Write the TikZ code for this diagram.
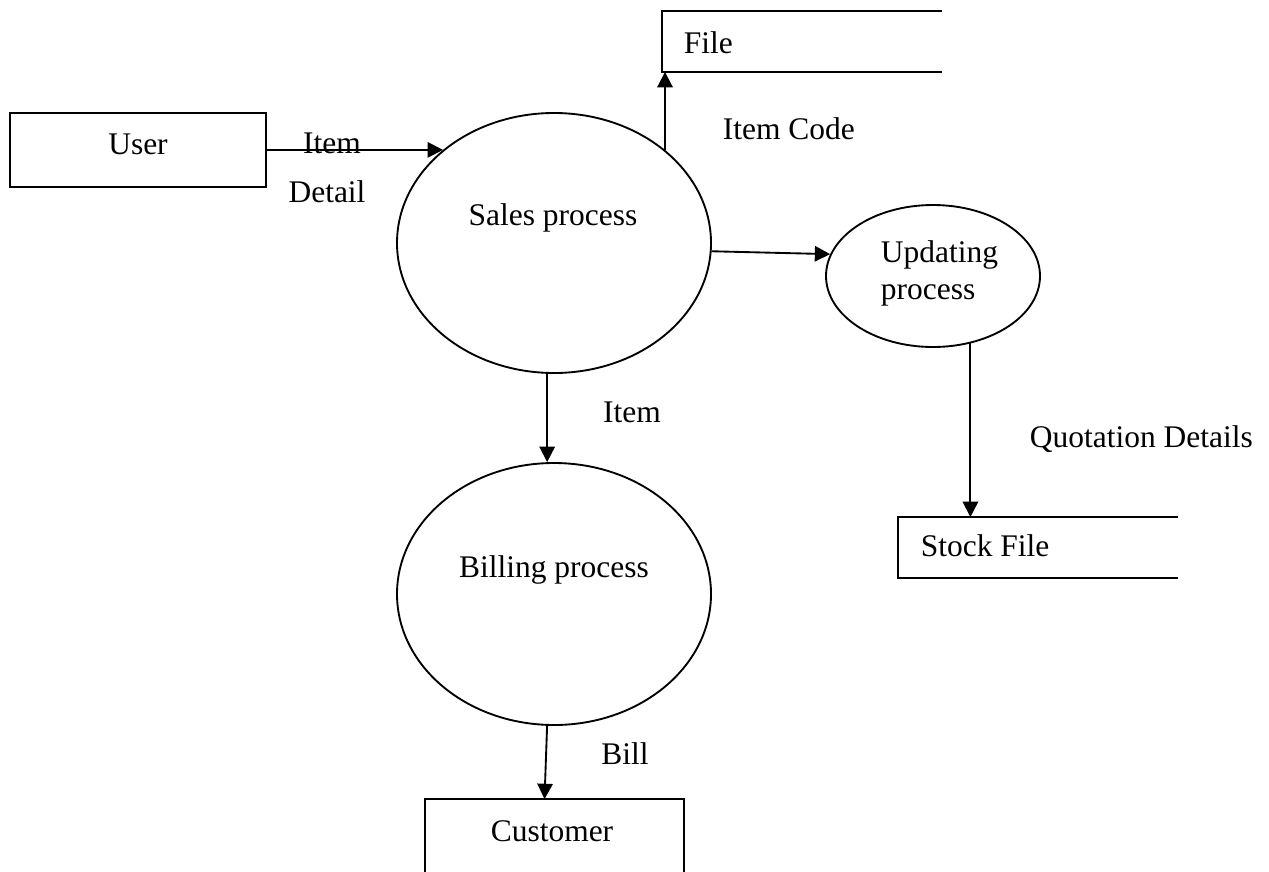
\documentclass[tikz,border=0pt]{standalone}
\usepackage{fontspec}
\setmainfont{Liberation Serif}
\usetikzlibrary{arrows.meta,shapes.geometric}
\begin{document}
\begin{tikzpicture}[x=0.75pt,y=-0.75pt,
  font=\fontsize{23.6}{28}\selectfont,
  line width=1.4pt,
  proc/.style={draw,ellipse,inner sep=0pt},
  entity/.style={draw,rectangle,inner sep=0pt,minimum width=192pt,minimum height=55.5pt},
  store/.style={rectangle,inner sep=0pt},
  txt/.style={inner sep=0pt,anchor=base},
  txtw/.style={inner sep=0pt,anchor=base west},
  flow/.style={-{Triangle[length=11.5pt,width=11.5pt]}}]
\useasboundingbox (0,0) rectangle (1269,871);

% shapes
\node[entity] (user) at (138,150) {};
\node[proc,minimum width=235.5pt,minimum height=195pt] (sales) at (554,243) {};
\node[proc,minimum width=160.5pt,minimum height=106.5pt] (updating) at (933,276) {};
\node[proc,minimum width=235.5pt,minimum height=196.5pt] (billing) at (554,594) {};
\node[store,minimum width=208.5pt,minimum height=44.25pt] (file) at (802,41.5) {};
\node[store,minimum width=208.5pt,minimum height=44.25pt] (stock) at (1038,547.5) {};
\node[store,minimum width=192.75pt,minimum height=53.25pt] (customer) at (554.5,835.5) {};

\draw (file.north east) -- (file.north west) -- (file.south west) -- (file.south east);
\draw (stock.north east) -- (stock.north west) -- (stock.south west) -- (stock.south east);
\draw (customer.south west) -- (customer.north west) -- (customer.north east) -- (customer.south east);

% texts
\node[txt] (tuser) at (138,154) {User};
\node[txtw] (tfile) at (683,53) {File};
\node[txt] (tsales) at (553,225) {Sales process};
\node[txtw] (tupd1) at (880,262) {Updating};
\node[txtw] (tupd2) at (880,299) {process};
\node[txt] (tbill) at (554,577) {Billing process};
\node[txtw] (tstock) at (920,556) {Stock File};
\node[txt] (tcust) at (552,841) {Customer};

% flows
\draw[flow] (user.east |- sales.140.1) -- (sales.140.1);
\draw[flow] (sales.40.5) -- (sales.40.5 |- file.south);
\draw[flow] (sales.-3) -- (updating.168);
\draw[flow] (updating.-61) -- (updating.-61 |- stock.north);
\draw[flow] (sales.-93.5) -- (sales.-93.5 |- billing.north);
\draw[flow] (billing.-93) -- ([xshift=-7.5pt]customer.north);

% flow labels
\node[txt] (litem) at (332,153) {Item};
\node[txt] (ldetail) at (327,202) {Detail};
\node[txtw] (lcode) at (722,139) {Item Code};
\node[txt] (litem2) at (632,422) {Item};
\node[txtw] (lquot) at (1029,447) {Quotation Details};
\node[txt] (lbill) at (625,764) {Bill};
\end{tikzpicture}
\end{document}
